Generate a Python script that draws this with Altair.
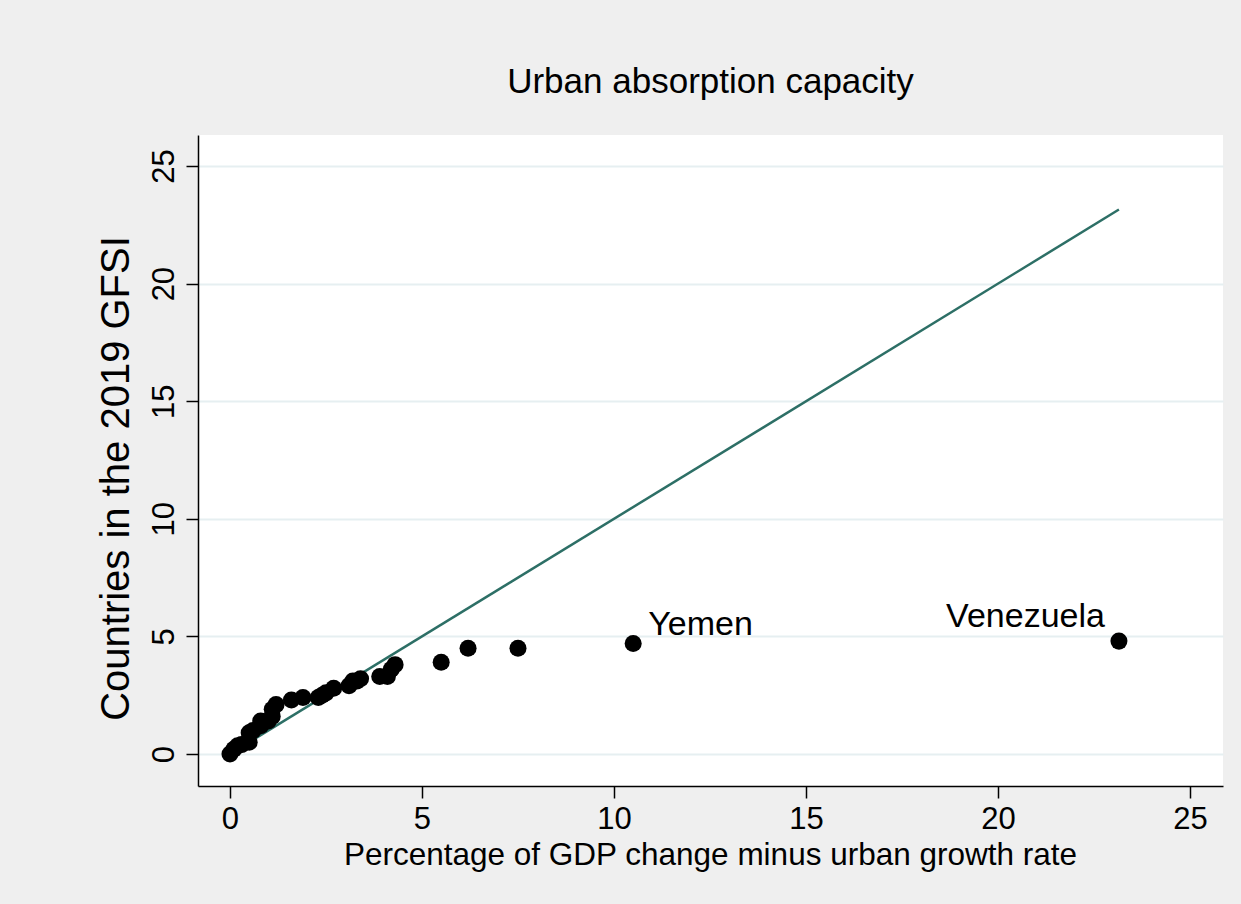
import altair as alt
import pandas as pd

# Growth gap (x) against GFSI measure (y) for each country
gap = [0.0, 0.1, 0.2, 0.3, 0.5, 0.5, 0.6, 0.8, 0.8, 1.0, 1.1, 1.1, 1.2, 1.6, 1.9,
       2.3, 2.4, 2.5, 2.7, 3.1, 3.2, 3.3, 3.4, 3.9, 4.1, 4.2, 4.3, 5.5, 6.2, 7.5,
       10.5, 23.15]
gfsi = [0.0, 0.2, 0.35, 0.4, 0.5, 0.9, 1.0, 1.2, 1.4, 1.4, 1.6, 1.9, 2.1, 2.3, 2.4,
        2.4, 2.5, 2.6, 2.8, 2.9, 3.1, 3.1, 3.2, 3.3, 3.3, 3.6, 3.8, 3.9, 4.5, 4.5,
        4.7, 4.8]

# Reference line y = x over the range of the data
diag = [0.0, 23.15]

# Named outliers
names = ["Yemen", "Venezuela"]
name_x = [10.5, 23.15]
name_y = [4.7, 4.8]

tick_vals = [0, 5, 10, 15, 20, 25]

pts = pd.DataFrame({"x": gap, "y": gfsi})
line_df = pd.DataFrame({"x": diag, "y": diag})
lab = pd.DataFrame({"name": names, "x": name_x, "y": name_y})

FONT = "Liberation Sans"

xs = alt.Scale(domain=[-0.833, 25.86], nice=False, zero=False)
ys = alt.Scale(domain=[-1.36, 26.32], nice=False, zero=False)

x_axis = alt.Axis(
    values=tick_vals, grid=False, title="Percentage of GDP change minus urban growth rate",
    titleFontSize=31.5, titleFontWeight="normal", titleFont=FONT, titleColor="black",
    titleX=512, titleY=69, titleBaseline="middle", titleAnchor="middle",
    labelFontSize=31, labelFont=FONT, labelColor="black", labelPadding=6,
    tickSize=12, tickColor="black", tickWidth=1.5,
    domainColor="black", domainWidth=1.5,
)
y_axis = alt.Axis(
    values=tick_vals, grid=True, gridColor="#e6eff1", gridWidth=2,
    title="Countries in the 2019 GFSI",
    titleFontSize=40, titleFontWeight="normal", titleFont=FONT, titleColor="black",
    titleAngle=270, titleX=-82, titleY=343, titleBaseline="middle", titleAlign="center",
    labelFontSize=31, labelFont=FONT, labelColor="black", labelAngle=270,
    labelAlign="center", labelBaseline="bottom", labelPadding=6,
    tickSize=12, tickColor="black", tickWidth=1.5,
    domainColor="black", domainWidth=1.5,
)

dots = alt.Chart(pts).mark_circle(size=290, color="black", opacity=1).encode(
    x=alt.X("x:Q", scale=xs, axis=x_axis),
    y=alt.Y("y:Q", scale=ys, axis=y_axis),
)

diag_line = alt.Chart(line_df).mark_line(color="#2d6f66", strokeWidth=2.5).encode(
    x=alt.X("x:Q", scale=xs),
    y=alt.Y("y:Q", scale=ys),
)

yemen = alt.Chart(lab).transform_filter(alt.datum.name == "Yemen").mark_text(
    align="left", baseline="middle", dx=15, dy=-18, fontSize=34, font=FONT, color="black"
).encode(x=alt.X("x:Q", scale=xs), y=alt.Y("y:Q", scale=ys), text="name:N")

venez = alt.Chart(lab).transform_filter(alt.datum.name == "Venezuela").mark_text(
    align="right", baseline="middle", dx=-14, dy=-24, fontSize=34, font=FONT, color="black"
).encode(x=alt.X("x:Q", scale=xs), y=alt.Y("y:Q", scale=ys), text="name:N")

chart = (
    alt.layer(diag_line, dots, yemen, venez)
    .properties(
        width=1025,
        height=651,
        title=alt.TitleParams(
            "Urban absorption capacity", fontSize=35, font=FONT, fontWeight="normal",
            color="black", anchor="middle", baseline="alphabetic", offset=7,
        ),
        autosize=alt.AutoSizeParams(type="none"),
        padding={"left": 198, "top": 135, "right": 18, "bottom": 118},
    )
    .configure(background="#efefef")
    .configure_view(fill="white", stroke=None)
)

chart.save("out.html", embed_options={"renderer": "svg", "actions": False})
